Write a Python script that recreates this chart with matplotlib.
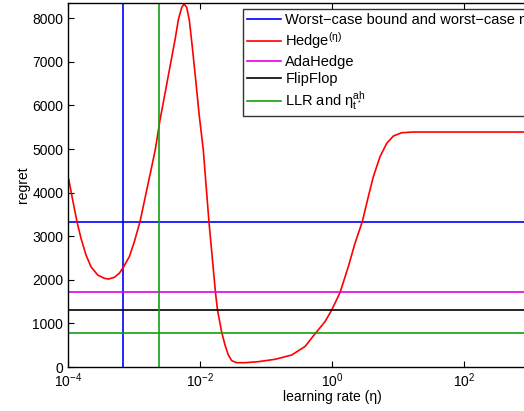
import matplotlib
matplotlib.use("Agg")
import matplotlib.pyplot as plt
import numpy as np

plt.rcParams['font.family'] = ['Liberation Sans', 'DejaVu Sans']
plt.rcParams['mathtext.fontset'] = 'custom'
plt.rcParams['mathtext.rm'] = 'Liberation Sans'
plt.rcParams['mathtext.it'] = 'Liberation Sans'
plt.rcParams['mathtext.bf'] = 'Liberation Sans:bold'

# Hedge(eta) regret curve (log10 eta, regret)
hedge_log_eta = [-4.000, -3.989, -3.929, -3.864, -3.803, -3.727, -3.652, -3.550,
                 -3.450, -3.383, -3.298, -3.223, -3.162, -3.071, -2.995, -2.909,
                 -2.818, -2.742, -2.677, -2.606, -2.530, -2.455, -2.379, -2.329,
                 -2.277, -2.242, -2.202, -2.162, -2.117, -2.065, -2.015,
                 -1.950, -1.864, -1.765, -1.735, -1.671, -1.621, -1.571, -1.520,
                 -1.444, -1.318, -1.117, -0.864, -0.611, -0.409, -0.258, -0.106,
                 -0.005, 0.121, 0.247, 0.348, 0.459, 0.550, 0.626, 0.727,
                 0.829, 0.929, 1.056, 1.232, 1.485, 4.0]
hedge_regret = [4330, 4305, 3830, 3333, 2952, 2569, 2300, 2110,
                2034, 2018, 2057, 2149, 2287, 2530, 2874, 3333,
                3984, 4518, 4990, 5665, 6277, 6888, 7500, 7959,
                8250, 8326, 8250, 7959, 7346, 6583, 5819,
                4977, 3326, 1704, 1307, 796, 505, 275, 145,
                99, 99, 122, 176, 275, 470, 760, 1040,
                1307, 1704, 2300, 2837, 3333, 3906, 4365, 4823,
                5131, 5298, 5374, 5390, 5390, 5390]

worst_case_regret = 3320
worst_case_eta = 6.75e-4
adahedge_regret = 1715
flipflop_regret = 1315
llr_regret = 787
llr_eta = 2.42e-3

green = '#12a012'

fig = plt.figure(figsize=(5.24, 4.11), dpi=100)
ax = fig.add_axes([68 / 524, 1 - 367 / 411, 528 / 524, 364 / 411])

ax.axhline(worst_case_regret, color='#0000ff', lw=1.2, label='Worst\u2212case bound and worst\u2212case \u03b7')
ax.axvline(worst_case_eta, color='#0000ff', lw=1.2)
ax.plot(10 ** np.array(hedge_log_eta), hedge_regret, color='#ff0000', lw=1.2,
        label='Hedge$^{(\u03b7)}$')
ax.axhline(adahedge_regret, color='#e000e0', lw=1.2, label='AdaHedge')
ax.axhline(flipflop_regret, color='black', lw=1.2, label='FlipFlop')
ax.axhline(llr_regret, color=green, lw=1.2, label='LLR and \u03b7$^{ah}_{t^*}$')
ax.axvline(llr_eta, color=green, lw=1.2)

ax.set_xscale('log')
ax.set_xlim(1e-4, 1e4)
ax.set_ylim(0, 8350)
ax.set_xticks([1e-4, 1e-2, 1e0, 1e2])
ax.xaxis.set_minor_locator(matplotlib.ticker.NullLocator())
ax.set_yticks(range(0, 8001, 1000))
ax.tick_params(direction='in', top=True, right=True, labelsize=10, length=4)
for s in ax.spines.values():
    s.set_linewidth(1.0)

ax.set_xlabel('learning rate (\u03b7)', fontsize=10, labelpad=0)
ax.set_ylabel('regret', fontsize=10, labelpad=1.5)

handles, labels = ax.get_legend_handles_labels()
leg = fig.legend(handles, labels, loc='upper left',
                 bbox_to_anchor=(243 / 524, 1 - 9 / 411), fontsize=10.5,
                 frameon=True, fancybox=False, edgecolor='black',
                 handlelength=2.3, labelspacing=0.22, borderpad=0.3,
                 handletextpad=0.3, borderaxespad=0)
leg.get_frame().set_linewidth(1.0)

fig.savefig('out.png', dpi=100)
